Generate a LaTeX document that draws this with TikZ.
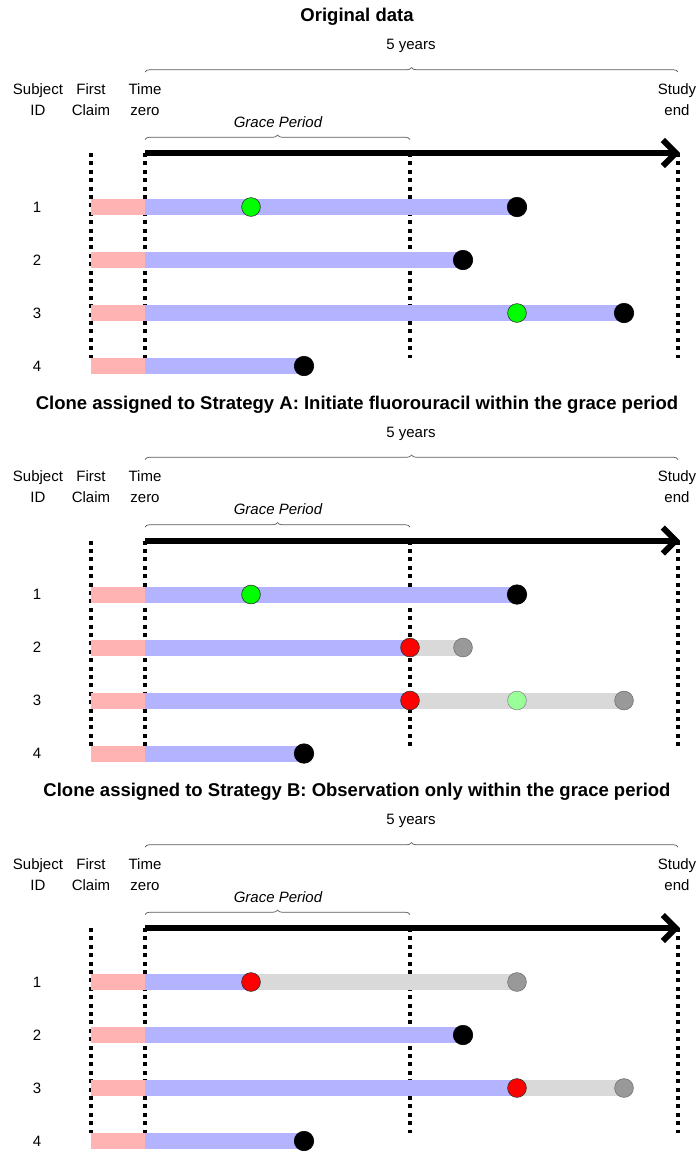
\documentclass[tikz,border=0pt]{standalone}
\usepackage{fontspec}
\setmainfont{Liberation Sans}
\usetikzlibrary{arrows.meta,positioning,calc,decorations.pathreplacing}

\definecolor{claimpink}{HTML}{FFB3B3}
\definecolor{fupblue}{HTML}{B3B3FF}
\definecolor{ghostgray}{HTML}{D9D9D9}
\definecolor{ghostdot}{HTML}{999999}
\definecolor{palegreen}{HTML}{99FF99}

\pgfdeclarelayer{guides}
\pgfdeclarelayer{bars}
\pgfsetlayers{guides,bars,main}

\begin{document}
\begin{tikzpicture}[x=1pt, y=-1pt,
    ttl/.style={font=\fontsize{18.5}{22}\selectfont\bfseries},
    hdr/.style={font=\fontsize{15}{21}\selectfont, align=center},
    lbl/.style={font=\fontsize{15}{18}\selectfont},
    brc/.style={draw=black!65, line width=0.7pt, decorate,
        decoration={brace, amplitude=4.5pt}},
    guide/.style={line width=3.5pt, dash pattern=on 4pt off 4.4pt},
    timeaxis/.style={line width=6pt, -{Straight Barb[length=13pt, width=26pt]}},
    claimbar/.style={claimpink, line width=16pt},
    fupbar/.style={fupblue, line width=16pt},
    ghostbar/.style={ghostgray, line width=16pt},
    ev/.style={circle, draw=black!80, line width=0.6pt, minimum size=18.8pt, inner sep=0pt},
    outcome/.style={ev, draw=black, fill=black, minimum size=19.5pt},
    init/.style={ev, fill=green},
    cens/.style={ev, fill=red},
    ghost/.style={ev, draw=black!55, fill=ghostdot},
    ghostinit/.style={ev, draw=black!45, fill=palegreen}]

    \useasboundingbox (0,0) rectangle (699,1152);

    % Frame of each panel: title, headers, braces, time axis, guides
    \foreach \p/\o/\ttl in {o/0/{Original data},
        a/387.5/{Clone assigned to Strategy A: Initiate fluorouracil within the grace period},
        b/775/{Clone assigned to Strategy B: Observation only within the grace period}} {
        \node[ttl] (\p-title) at (357,{\o+17}) {\ttl};
        \node[lbl] (\p-yrs) at (411,{\o+46}) {5 years};
        \node[hdr] (\p-sid) at (38,{\o+99.5}) {Subject\\ID};
        \node[hdr] (\p-fc) at (91,{\o+99.5}) {First\\Claim};
        \node[hdr] (\p-tz) at (145,{\o+99.5}) {Time\\zero};
        \node[hdr] (\p-se) at (677,{\o+99.5}) {Study\\end};
        \node[lbl, font=\fontsize{15}{18}\selectfont\itshape] (\p-gp) at (278,{\o+122}) {Grace Period};

        \coordinate (\p-c0) at (91,{\o+153});
        \coordinate (\p-t0) at (145,{\o+153});
        \coordinate (\p-g) at (410,{\o+153});
        \coordinate (\p-end) at (678,{\o+153});
        \coordinate (\p-bot) at (0,{\o+358});

        % 5 years and grace period braces
        \draw[brc] (\p-t0 |- 0,{\o+72}) -- (\p-end |- 0,{\o+72});
        \draw[brc] (\p-t0 |- 0,{\o+139.5}) -- (\p-g |- 0,{\o+139.5});

        \begin{pgfonlayer}{guides}
            \draw[guide] (\p-c0) -- (\p-c0 |- \p-bot);
            \draw[guide] (\p-t0) -- (\p-t0 |- \p-bot);
            \draw[guide] (\p-g) -- (\p-g |- \p-bot);
            \draw[guide] (\p-end) -- (\p-end |- \p-bot);
        \end{pgfonlayer}
        \draw[timeaxis] (\p-t0) -- ([xshift=2pt]\p-end);

        % subject rows: id and first claim to time zero
        \foreach \i in {1,...,4} {
            \node[lbl] (\p-id\i) at (37,{\o+207+53*(\i-1)}) {\i};
            \coordinate (\p-c\i) at (91,{\o+207+53*(\i-1)});
            \coordinate (\p-z\i) at (145,{\o+207+53*(\i-1)});
            \begin{pgfonlayer}{bars}
                \draw[claimbar] (\p-c\i) -- (\p-z\i);
            \end{pgfonlayer}
        }
    }

    % Original data
    \node[init] (o-e1a) at (251,0 |- o-z1) {};
    \node[outcome] (o-e1b) at (517,0 |- o-z1) {};
    \node[outcome] (o-e2) at (463,0 |- o-z2) {};
    \node[init] (o-e3a) at (517,0 |- o-z3) {};
    \node[outcome] (o-e3b) at (624,0 |- o-z3) {};
    \node[outcome] (o-e4) at (304,0 |- o-z4) {};

    % Strategy A clone
    \node[init] (a-e1a) at (251,0 |- a-z1) {};
    \node[outcome] (a-e1b) at (517,0 |- a-z1) {};
    \node[cens] (a-e2a) at (a-g |- a-z2) {};
    \node[ghost] (a-e2b) at (463,0 |- a-z2) {};
    \node[cens] (a-e3a) at (a-g |- a-z3) {};
    \node[ghostinit] (a-e3b) at (517,0 |- a-z3) {};
    \node[ghost] (a-e3c) at (624,0 |- a-z3) {};
    \node[outcome] (a-e4) at (304,0 |- a-z4) {};

    % Strategy B clone
    \node[cens] (b-e1a) at (251,0 |- b-z1) {};
    \node[ghost] (b-e1b) at (517,0 |- b-z1) {};
    \node[outcome] (b-e2) at (463,0 |- b-z2) {};
    \node[cens] (b-e3a) at (517,0 |- b-z3) {};
    \node[ghost] (b-e3b) at (624,0 |- b-z3) {};
    \node[outcome] (b-e4) at (304,0 |- b-z4) {};

    \begin{pgfonlayer}{bars}
        \draw[fupbar] (o-z1) -- (o-e1b.center);
        \draw[fupbar] (o-z2) -- (o-e2.center);
        \draw[fupbar] (o-z3) -- (o-e3b.center);
        \draw[fupbar] (o-z4) -- (o-e4.center);

        \draw[fupbar] (a-z1) -- (a-e1b.center);
        \draw[fupbar] (a-z2) -- (a-e2a.center);
        \draw[ghostbar] (a-e2a.center) -- (a-e2b.center);
        \draw[fupbar] (a-z3) -- (a-e3a.center);
        \draw[ghostbar] (a-e3a.center) -- (a-e3c.center);
        \draw[fupbar] (a-z4) -- (a-e4.center);

        \draw[fupbar] (b-z1) -- (b-e1a.center);
        \draw[ghostbar] (b-e1a.center) -- (b-e1b.center);
        \draw[fupbar] (b-z2) -- (b-e2.center);
        \draw[fupbar] (b-z3) -- (b-e3a.center);
        \draw[ghostbar] (b-e3a.center) -- (b-e3b.center);
        \draw[fupbar] (b-z4) -- (b-e4.center);
    \end{pgfonlayer}
\end{tikzpicture}
\end{document}
